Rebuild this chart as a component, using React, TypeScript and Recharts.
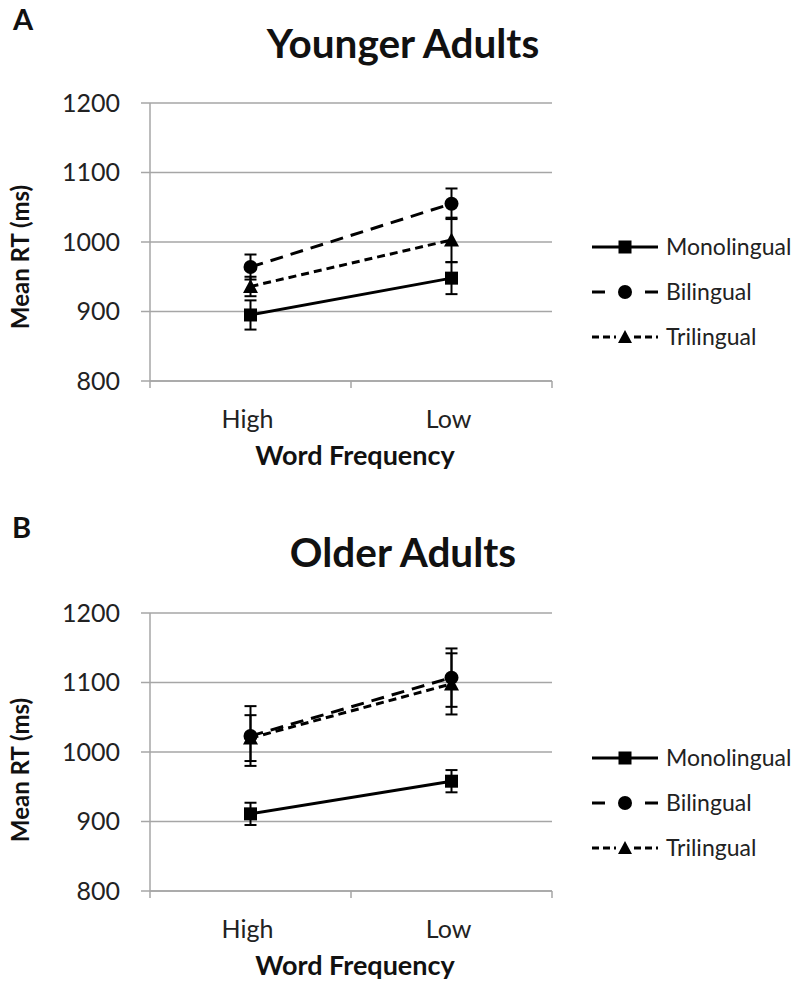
import React from "react";
import {
  LineChart,
  Line,
  XAxis,
  YAxis,
  CartesianGrid,
  ErrorBar,
  Legend,
  Label,
} from "recharts";

// ---------- data ----------
const categories = ["High", "Low"];
const seriesNames = ["Monolingual", "Bilingual", "Trilingual"];
const seriesKeys = ["mono", "bi", "tri"];
const yTicks = [800, 900, 1000, 1100, 1200];

const youngMono = [895, 948];
const youngMonoErr = [21, 23];
const youngBi = [964, 1055];
const youngBiErr = [18, 22];
const youngTri = [936, 1003];
const youngTriErr = [14, 32];

const oldMono = [911, 958];
const oldMonoErr = [16, 16];
const oldBi = [1023, 1107];
const oldBiErr = [43, 42];
const oldTri = [1020, 1098];
const oldTriErr = [33, 44];

const panelTitles = ["Younger Adults", "Older Adults"];
const panelLetters = ["A", "B"];
const xTitle = "Word Frequency";
const yTitle = "Mean RT (ms)";

// ---------- helpers ----------
const FONT = "Lato, 'Open Sans', sans-serif";
const GRID = "#a6a6a6";

function buildRows(
  mono: number[],
  monoErr: number[],
  bi: number[],
  biErr: number[],
  tri: number[],
  triErr: number[]
) {
  return categories.map((c, i) => ({
    x: i + 0.5,
    cat: c,
    mono: mono[i],
    monoErr: monoErr[i],
    bi: bi[i],
    biErr: biErr[i],
    tri: tri[i],
    triErr: triErr[i],
  }));
}

const youngRows = buildRows(youngMono, youngMonoErr, youngBi, youngBiErr, youngTri, youngTriErr);
const oldRows = buildRows(oldMono, oldMonoErr, oldBi, oldBiErr, oldTri, oldTriErr);

const SquareDot = (p: any) => {
  const { cx, cy, index } = p;
  if (cx == null || cy == null) return <g key={`sq-${index}`} />;
  return <rect key={`sq-${index}`} x={cx - 6.5} y={cy - 6.5} width={13} height={13} fill="#000" />;
};
const CircleDot = (p: any) => {
  const { cx, cy, index } = p;
  if (cx == null || cy == null) return <g key={`ci-${index}`} />;
  return <circle key={`ci-${index}`} cx={cx} cy={cy} r={7} fill="#000" />;
};
const TriDot = (p: any) => {
  const { cx, cy, index } = p;
  if (cx == null || cy == null) return <g key={`tr-${index}`} />;
  return (
    <polygon
      key={`tr-${index}`}
      points={`${cx},${cy - 7.5} ${cx - 7.5},${cy + 6.5} ${cx + 7.5},${cy + 6.5}`}
      fill="#000"
    />
  );
};

const XTick = (p: any) => {
  const { x, y, payload } = p;
  const v = payload.value as number;
  if (Number.isInteger(v)) {
    return <line x1={x} y1={y} x2={x} y2={y + 7} stroke={GRID} strokeWidth={1.5} />;
  }
  const label = categories[Math.floor(v)];
  return (
    <text x={x - 3} y={y + 47} textAnchor="middle" fill="#222" fontSize={25} fontFamily={FONT}>
      {label}
    </text>
  );
};

const LegendContent = (props: any) => {
  const payload = [...(props.payload || [])].sort(
    (a: any, b: any) => seriesKeys.indexOf(a.dataKey) - seriesKeys.indexOf(b.dataKey)
  );
  return (
    <div style={{ fontFamily: FONT }}>
      {payload.map((e: any) => {
        const key = e.dataKey;
        return (
          <div key={key} style={{ display: "flex", alignItems: "center", height: 45 }}>
            <svg width={74} height={20} style={{ display: "block" }}>
              {key === "mono" && (
                <>
                  <line x1={0} y1={10} x2={66} y2={10} stroke="#000" strokeWidth={3} />
                  <rect x={26.5} y={3.5} width={13} height={13} fill="#000" />
                </>
              )}
              {key === "bi" && (
                <>
                  <line x1={0} y1={10} x2={13} y2={10} stroke="#000" strokeWidth={3} />
                  <circle cx={33} cy={10} r={7} fill="#000" />
                  <line x1={53} y1={10} x2={66} y2={10} stroke="#000" strokeWidth={3} />
                </>
              )}
              {key === "tri" && (
                <>
                  <line x1={0} y1={10} x2={24} y2={10} stroke="#000" strokeWidth={3} strokeDasharray="7 4" />
                  <polygon points="33,3 26,16 40,16" fill="#000" />
                  <line x1={42} y1={10} x2={66} y2={10} stroke="#000" strokeWidth={3} strokeDasharray="7 4" />
                </>
              )}
            </svg>
            <span style={{ fontSize: 23, color: "#222", lineHeight: 1 }}>{e.value}</span>
          </div>
        );
      })}
    </div>
  );
};

function Panel(props: {
  rows: any[];
  top: number;
  height: number;
  plotTop: number;
  legendTop: number;
  yLabelShift: number;
}) {
  const { rows, top, height, plotTop, legendTop, yLabelShift } = props;
  const plotH = 278;
  const xAxisH = height - plotTop - plotH;
  return (
    <div style={{ position: "absolute", left: 0, top, width: 800, height }}>
      <LineChart
        width={800}
        height={height}
        data={rows}
        margin={{ top: plotTop, right: 248, left: 0, bottom: 0 }}
      >
        <CartesianGrid horizontal vertical={false} stroke={GRID} strokeWidth={1.5} />
        <XAxis
          dataKey="x"
          type="number"
          domain={[0, 2]}
          ticks={[0, 0.5, 1, 1.5, 2]}
          tickSize={0}
          tickMargin={0}
          tickLine={false}
          axisLine={{ stroke: GRID, strokeWidth: 1.5 }}
          tick={<XTick />}
          height={xAxisH}
          interval={0}
        >
          <Label
            content={(lp: any) => {
              const vb = lp.viewBox;
              return (
                <text
                  x={vb.x + vb.width / 2 + 4}
                  y={vb.y + 84}
                  textAnchor="middle"
                  fontSize={27}
                  fontWeight={700}
                  fontFamily={FONT}
                  fill="#111"
                >
                  {xTitle}
                </text>
              );
            }}
          />
        </XAxis>
        <YAxis
          type="number"
          domain={[800, 1200]}
          ticks={yTicks}
          width={150}
          tickSize={9}
          tickMargin={21}
          tickLine={{ stroke: GRID, strokeWidth: 1.5 }}
          axisLine={{ stroke: GRID, strokeWidth: 1.5 }}
          tick={{ fill: "#222", fontSize: 25, fontFamily: FONT }}
          interval={0}
        >
          <Label
            content={(lp: any) => {
              const vb = lp.viewBox;
              const cx = 29;
              const cy = vb.y + vb.height / 2 + yLabelShift;
              return (
                <text
                  x={cx}
                  y={cy}
                  transform={`rotate(-90 ${cx} ${cy})`}
                  textAnchor="middle"
                  fontSize={24}
                  fontWeight={700}
                  fontFamily={FONT}
                  fill="#111"
                >
                  {yTitle}
                </text>
              );
            }}
          />
        </YAxis>
        <Legend
          layout="horizontal"
          align="center"
          verticalAlign="middle"
          content={<LegendContent />}
          wrapperStyle={{ left: 592, top: legendTop, width: 208 }}
        />
        <Line
          dataKey="mono"
          name={seriesNames[0]}
          stroke="#000"
          strokeWidth={3}
          dot={SquareDot}
          activeDot={false}
          isAnimationActive={false}
        >
          <ErrorBar dataKey="monoErr" width={6} stroke="#000" strokeWidth={2} direction="y" />
        </Line>
        <Line
          dataKey="bi"
          name={seriesNames[1]}
          stroke="#000"
          strokeWidth={3}
          strokeDasharray="13 8"
          dot={CircleDot}
          activeDot={false}
          isAnimationActive={false}
        >
          <ErrorBar dataKey="biErr" width={6} stroke="#000" strokeWidth={2} direction="y" />
        </Line>
        <Line
          dataKey="tri"
          name={seriesNames[2]}
          stroke="#000"
          strokeWidth={3}
          strokeDasharray="8 5"
          dot={TriDot}
          activeDot={false}
          isAnimationActive={false}
        >
          <ErrorBar dataKey="triErr" width={6} stroke="#000" strokeWidth={2} direction="y" />
        </Line>
      </LineChart>
    </div>
  );
}

export default function App() {
  return (
    <div
      style={{
        position: "absolute",
        left: 0,
        top: 0,
        width: 800,
        height: 995,
        background: "#fff",
        fontFamily: FONT,
        overflow: "hidden",
      }}
    >
      <Panel rows={youngRows} top={0} height={490} plotTop={103} legendTop={224} yLabelShift={15} />
      <Panel rows={oldRows} top={490} height={505} plotTop={123} legendTop={245} yLabelShift={18} />
      <svg
        width={800}
        height={995}
        style={{ position: "absolute", left: 0, top: 0, pointerEvents: "none" }}
      >
        <text x={13} y={30} fontSize={29} fontWeight={700} fontFamily={FONT} fill="#111">
          {panelLetters[0]}
        </text>
        <text x={403} y={58} textAnchor="middle" fontSize={40.5} fontWeight={700} fontFamily={FONT} fill="#111">
          {panelTitles[0]}
        </text>
        <text x={12} y={538} fontSize={29} fontWeight={700} fontFamily={FONT} fill="#111">
          {panelLetters[1]}
        </text>
        <text x={403} y={567} textAnchor="middle" fontSize={40.5} fontWeight={700} fontFamily={FONT} fill="#111">
          {panelTitles[1]}
        </text>
      </svg>
    </div>
  );
}
